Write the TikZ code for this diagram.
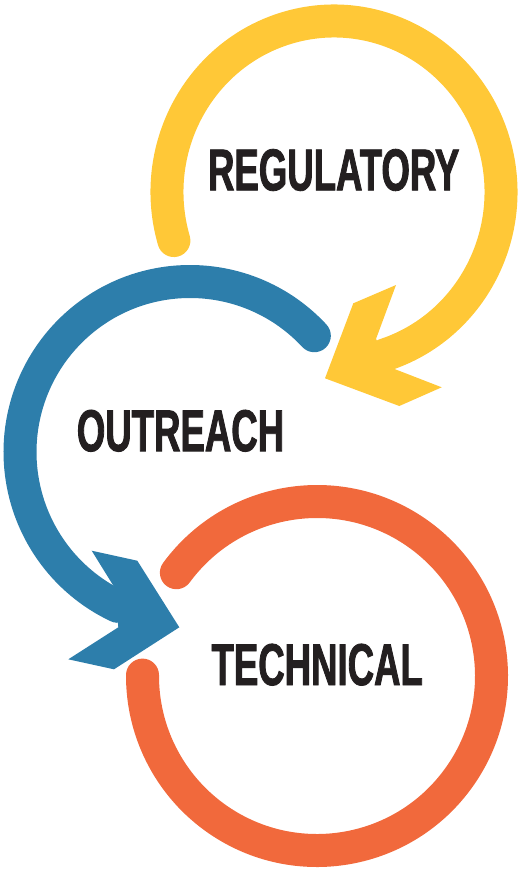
\documentclass[tikz,border=0pt]{standalone}
\usepackage{fontspec}
\usepackage{xcolor}
\newfontfamily\cyclefont[FakeStretch=0.62,BoldFeatures={FakeBold=1.4}]{Liberation Sans}
\definecolor{cycyellow}{RGB}{255,200,55}
\definecolor{cycblue}{RGB}{45,126,171}
\definecolor{cycorange}{RGB}{241,105,60}
\definecolor{cycink}{RGB}{35,31,32}

\begin{document}
\begin{tikzpicture}[x=1pt,y=-1pt,
	ring/.style={line width=33pt,line cap=round},
	title/.style={font=\cyclefont\bfseries\fontsize{59}{59}\selectfont,text=cycink,inner sep=0pt}]
				\useasboundingbox (0,0) rectangle (518,869);
				%centres of the three rings
				\coordinate (ycen) at (334,192);
				\coordinate (bcen) at (190,452);
				\coordinate (ocen) at (317,676);
				%%yellow ring and its head
				\draw[ring,cycyellow] ([shift={(163.5:167 and 171)}]ycen) arc[start angle=163.5,end angle=432.3,x radius=167,y radius=171];
				\fill[cycyellow] (325,378.3)--(353.3,303.3)--(396,285)--(376,339)--(392.7,368.3)--(441.7,387.3)--(399.3,406)--cycle;
				%%blue ring and its head
				\draw[ring,cycblue] ([shift={(-43:170 and 170.5)}]bcen) arc[start angle=-43,end angle=-244.8,x radius=170,y radius=170.5];
				\fill[cycblue] (179.3,627.3)--(137.3,560.7)--(91.7,550.7)--(115,588.3)--(118.3,627.3)--(68.3,659.3)--(114,669.3)--cycle;
				%%orange ring, no head
				\draw[ring,cycorange] ([shift={(216.3:174.5)}]ocen) arc[start angle=216.3,end angle=540.3,radius=174.5];
				%% the three words
				\node[title] (reg) at (333.7,170) {REGULATORY};
				\node[title] (out) at (180.5,430.8) {OUTREACH};
				\node[title] (tech) at (317.2,664.7) {TECHNICAL};
				\end{tikzpicture}
\end{document}
